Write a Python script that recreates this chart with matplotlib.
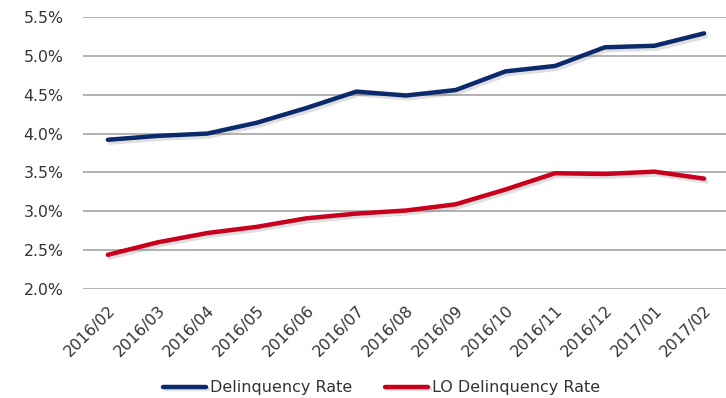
import matplotlib
matplotlib.use("Agg")
import matplotlib.pyplot as plt
import matplotlib.patheffects as pe
from matplotlib.ticker import FuncFormatter

months = ["2016/02", "2016/03", "2016/04", "2016/05", "2016/06", "2016/07",
          "2016/08", "2016/09", "2016/10", "2016/11", "2016/12", "2017/01", "2017/02"]
delinquency = [3.92, 3.97, 4.00, 4.14, 4.33, 4.54, 4.49, 4.56, 4.80, 4.87, 5.11, 5.13, 5.29]
lo_delinquency = [2.44, 2.60, 2.72, 2.80, 2.91, 2.97, 3.01, 3.09, 3.28, 3.49, 3.48, 3.51, 3.42]
y_ticks = [2.0, 2.5, 3.0, 3.5, 4.0, 4.5, 5.0, 5.5]

plt.rcParams["font.family"] = ["DejaVu Sans"]

fig = plt.figure(figsize=(7.26, 3.98), dpi=100)
ax = fig.add_axes([83 / 726, 1 - 289 / 398, 646 / 726, 272 / 398])

x = list(range(len(months)))
shadow = [pe.SimpleLineShadow(offset=(1.5, -2), shadow_color="gray", alpha=0.25), pe.Normal()]
ax.plot(x, delinquency, color="#0b2a6b", lw=3.2, solid_capstyle="round",
        label="Delinquency Rate", path_effects=shadow, zorder=3)
ax.plot(x, lo_delinquency, color="#c8001e", lw=3.2, solid_capstyle="round",
        label="LO Delinquency Rate", path_effects=shadow, zorder=3)

ax.set_xlim(-0.5, 12.5)
ax.set_ylim(2.0, 5.5)
ax.set_yticks(y_ticks)
ax.yaxis.set_major_formatter(FuncFormatter(lambda v, p: f"{v:.1f}%"))
ax.set_xticks(x)
ax.set_xticklabels(months, rotation=45, ha="right", rotation_mode="anchor")

ax.grid(axis="y", color="#a6a6a6", lw=1.2)
ax.set_axisbelow(True)
for s in ax.spines.values():
    s.set_visible(False)
ax.tick_params(axis="both", length=0, labelsize=11.3, labelcolor="#333333")
ax.tick_params(axis="y", pad=14)
ax.tick_params(axis="x", pad=10)

leg = fig.legend(loc="center", bbox_to_anchor=(0.5255, 0.026), ncol=2, frameon=False,
                 fontsize=11.5, handlelength=2.7, columnspacing=2.0, handletextpad=0.25)
for t in leg.get_texts():
    t.set_color("#333333")

fig.savefig("out.png", dpi=100)
